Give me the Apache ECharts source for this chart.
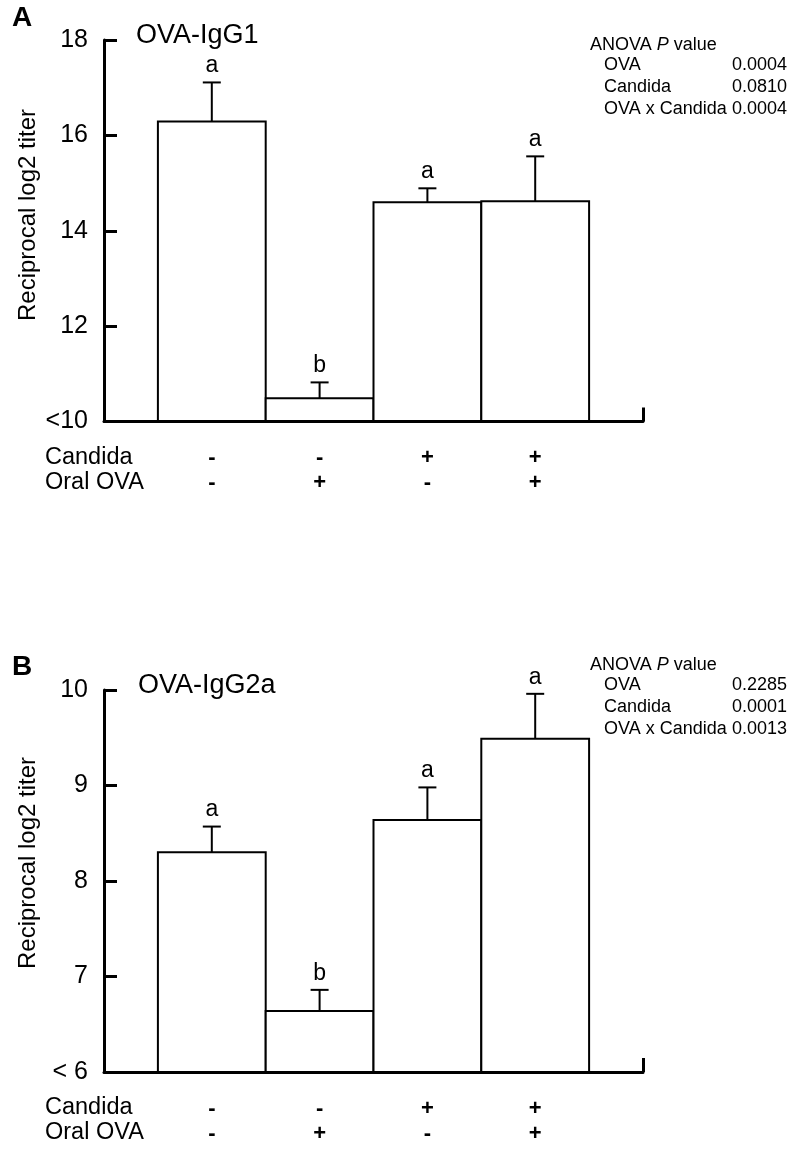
<!DOCTYPE html>
<html>
<head>
<meta charset="utf-8">
<script src="https://cdn.jsdelivr.net/npm/echarts@6/dist/echarts.min.js"></script>
<style>
html,body{margin:0;padding:0;background:#fff;}
#chart{width:800px;height:1154px;}
</style>
</head>
<body>
<div id="chart"></div>
<script>
// ---- data ----
const groupPos = [1, 2, 3, 4];
const candida = ['-', '-', '+', '+'];
const oralOVA = ['-', '+', '-', '+'];

const igg1Mean = [16.29, 10.49, 14.60, 14.62];
const igg1Err = [0.82, 0.33, 0.29, 0.94];
const igg1Letters = ['a', 'b', 'a', 'a'];

const igg2aMean = [8.30, 6.64, 8.64, 9.49];
const igg2aErr = [0.27, 0.22, 0.34, 0.47];
const igg2aLetters = ['a', 'b', 'a', 'a'];

const igg1Ticks = [10, 12, 14, 16, 18];
const igg2aTicks = [6, 7, 8, 9, 10];

const anovaTerms = ['OVA', 'Candida', 'OVA x Candida'];
const anovaA = ['0.0004', '0.0810', '0.0004'];
const anovaB = ['0.2285', '0.0001', '0.0013'];

// ---- chart ----
const FONT = 'Liberation Sans, Arial, Helvetica, sans-serif';
const chart = echarts.init(document.getElementById('chart'), null, {renderer: 'canvas'});

function makeSeries(gridIdx, means, errs, letters, base) {
  const data = groupPos.map((x, i) => [x, means[i], errs[i], i]);
  return {
    type: 'custom',
    xAxisIndex: gridIdx,
    yAxisIndex: gridIdx,
    clip: false,
    z: 2,
    data: data,
    renderItem: function (params, api) {
      const x = api.value(0), v = api.value(1), e = api.value(2), idx = api.value(3);
      const p0 = api.coord([x - 0.5, base]);
      const p1 = api.coord([x + 0.5, v]);
      const mid = api.coord([x, v]);
      const top = api.coord([x, v + e]);
      return {
        type: 'group',
        children: [
          {type: 'rect', shape: {x: p0[0], y: p1[1], width: p1[0] - p0[0], height: p0[1] - p1[1]},
           style: {fill: '#fff', stroke: '#000', lineWidth: 2}},
          {type: 'line', shape: {x1: mid[0], y1: mid[1], x2: top[0], y2: top[1]},
           style: {stroke: '#000', lineWidth: 2}},
          {type: 'line', shape: {x1: top[0] - 9, y1: top[1], x2: top[0] + 9, y2: top[1]},
           style: {stroke: '#000', lineWidth: 2}},
          {type: 'text', x: top[0], y: top[1] - 5,
           style: {text: letters[idx], fill: '#000', font: '23px ' + FONT, align: 'center', verticalAlign: 'bottom'}}
        ]
      };
    }
  };
}

function xAxisCfg(gridIdx) {
  return {
    type: 'value', gridIndex: gridIdx, min: 0, max: 5, z: 10,
    axisLine: {show: true, lineStyle: {color: '#000', width: 3}},
    axisTick: {show: true, inside: true, length: 14, lineStyle: {color: '#000', width: 3}, customValues: [5]},
    axisLabel: {
      show: true, customValues: groupPos, margin: 24,
      formatter: function (v) { const i = Math.round(v) - 1; return candida[i] + '\n' + oralOVA[i]; },
      color: '#000', fontSize: 22, fontWeight: 'bold', lineHeight: 25, fontFamily: FONT
    },
    splitLine: {show: false}
  };
}

function yAxisCfg(gridIdx, ticks, lowLabel) {
  return {
    type: 'value', gridIndex: gridIdx,
    min: ticks[0], max: ticks[ticks.length - 1], interval: ticks[1] - ticks[0], z: 10,
    axisLine: {show: true, lineStyle: {color: '#000', width: 3}},
    axisTick: {show: true, inside: true, length: 13, lineStyle: {color: '#000', width: 3}},
    axisLabel: {
      color: '#000', fontSize: 25, margin: 16, fontFamily: FONT,
      formatter: function (v) { return v === ticks[0] ? lowLabel : String(v); }
    },
    splitLine: {show: false}
  };
}

function txt(x, y, text, opts) {
  return Object.assign({type: 'text', x: x, y: y,
    style: Object.assign({text: text, fill: '#000', font: '18px ' + FONT, verticalAlign: 'middle'}, opts || {})});
}

function anovaBlock(y0, vals) {
  const items = [];
  items.push({type: 'text', x: 590, y: y0, style: {
    text: '{n|ANOVA }{i|P}{n| value}', verticalAlign: 'middle', fill: '#000',
    rich: {n: {fontSize: 18, fontFamily: FONT, fill: '#000'}, i: {fontSize: 18, fontFamily: FONT, fontStyle: 'italic', fill: '#000'}}
  }});
  const rowY = [y0 + 20, y0 + 42, y0 + 64];
  anovaTerms.forEach((t, i) => {
    items.push(txt(604, rowY[i], t));
    items.push(txt(787, rowY[i], vals[i], {align: 'right'}));
  });
  return items;
}

function yName(cy) {
  return {type: 'text', x: 28, y: cy, rotation: Math.PI / 2,
    style: {text: 'Reciprocal log2 titer', fill: '#000', font: '24px ' + FONT, align: 'center', verticalAlign: 'middle'}};
}

const graphics = [
  txt(12, 18, 'A', {font: 'bold 28px ' + FONT}),
  txt(136, 36, 'OVA-IgG1', {font: '27px ' + FONT}),
  yName(215),
  txt(45, 458, 'Candida', {font: '23.5px ' + FONT}),
  txt(45, 483, 'Oral OVA', {font: '23.5px ' + FONT}),
  txt(12, 667, 'B', {font: 'bold 28px ' + FONT}),
  txt(138, 686, 'OVA-IgG2a', {font: '27px ' + FONT}),
  yName(863),
  txt(45, 1108, 'Candida', {font: '23.5px ' + FONT}),
  txt(45, 1133, 'Oral OVA', {font: '23.5px ' + FONT})
].concat(anovaBlock(45, anovaA), anovaBlock(665, anovaB));

chart.setOption({
  backgroundColor: '#fff',
  animation: false,
  textStyle: {fontFamily: FONT},
  grid: [
    {left: 104, top: 40, width: 539, height: 381.5},
    {left: 104, top: 690, width: 539, height: 382}
  ],
  xAxis: [xAxisCfg(0), xAxisCfg(1)],
  yAxis: [yAxisCfg(0, igg1Ticks, '<10'), yAxisCfg(1, igg2aTicks, '< 6')],
  series: [
    makeSeries(0, igg1Mean, igg1Err, igg1Letters, igg1Ticks[0]),
    makeSeries(1, igg2aMean, igg2aErr, igg2aLetters, igg2aTicks[0])
  ],
  graphic: graphics
});
</script>
</body>
</html>
